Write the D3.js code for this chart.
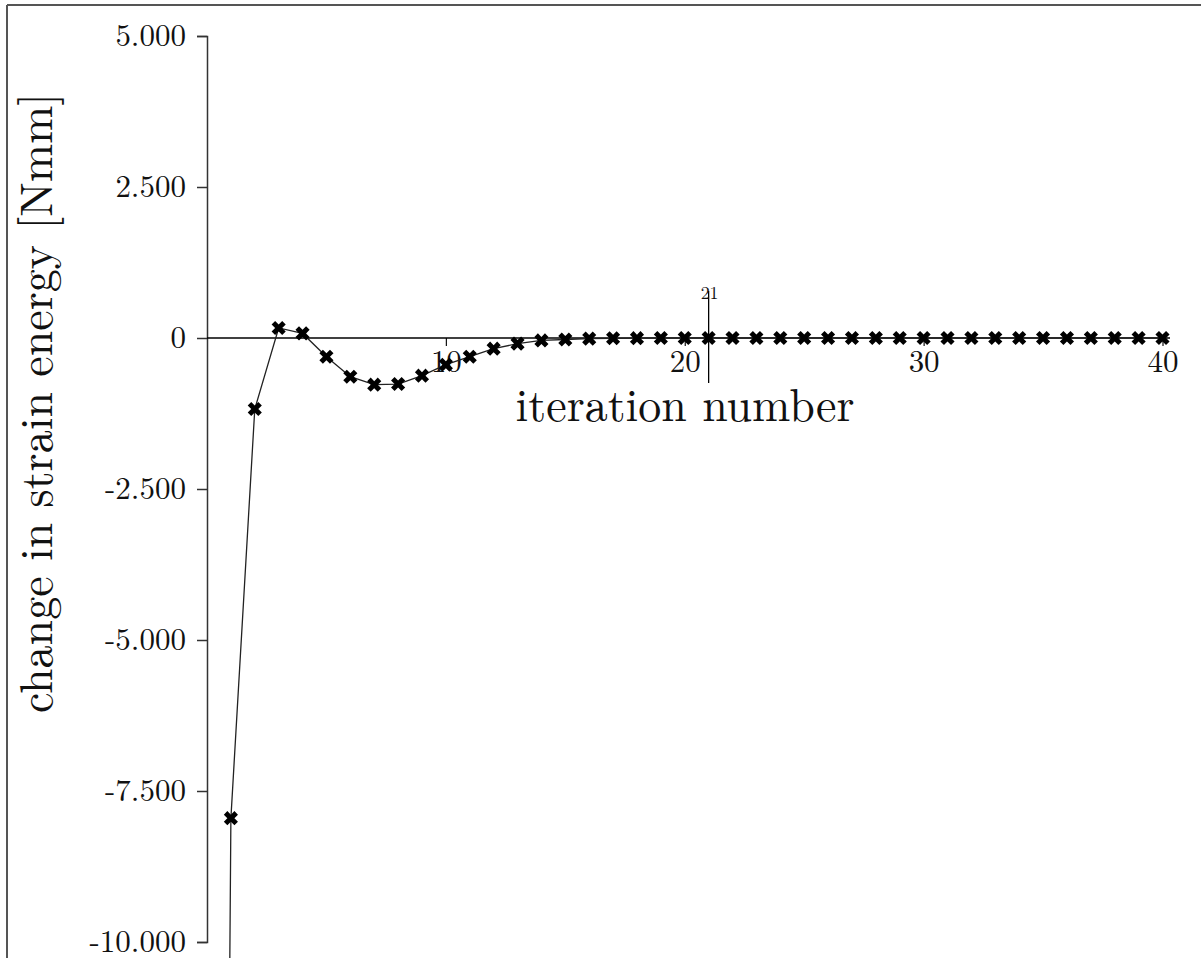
<!DOCTYPE html>
<html>
<head>
<meta charset="utf-8">
<script src="https://cdn.jsdelivr.net/npm/d3@7"></script>
<style>
  html, body { margin: 0; padding: 0; background: #fff; overflow: hidden; }
</style>
</head>
<body>
<div id="chart"></div>
<script>
// iteration numbers and change in strain energy [Nmm]
const iterations = d3.range(0, 41)
const energyChange = [-60000, -7950, -1176, 166, 76, -310, -641, -773, -762, -624,
  -442, -310, -177, -93, -40, -25, -10, -5, -3, 0,
  0, 0, 0, 0, 0, 0, 0, 0, 0, 0,
  0, 0, 0, 0, 0, 0, 0, 0, 0, 0, 0]
const yTicks = [-10000, -7500, -5000, -2500, 0, 2500, 5000]
const xTicks = [10, 20, 30, 40]
const markIteration = 21

const width = 1201, height = 958
const FONT = '"Latin Modern Roman", "CMU Serif", "Liberation Serif", serif'

const data = iterations.map((it, i) => ({it: it, value: energyChange[i]}))

const locale = d3.formatLocale({decimal: ",", thousands: ".", grouping: [3], currency: ["", ""], minus: "-"})
const fmt = locale.format(",")

const svg = d3.select("#chart").append("svg")
    .attr("width", width)
    .attr("height", height)

// frame (only top and left show)
svg.append("line").attr("x1", 7).attr("y1", 5).attr("x2", width).attr("y2", 5)
    .attr("stroke", "#555").attr("stroke-width", 2)
svg.append("line").attr("x1", 7).attr("y1", 5).attr("x2", 7).attr("y2", height)
    .attr("stroke", "#555").attr("stroke-width", 2)

const x = d3.scaleLinear().domain([0, 40]).range([207, 1162.5])
const y = d3.scaleLinear().domain([-10000, 5000]).range([942, 36])

// y axis
const yAxis = svg.append("g")
    .attr("transform", `translate(${x(0)},0)`)
    .call(d3.axisLeft(y).tickValues(yTicks).tickFormat(fmt).tickSize(10).tickPadding(11))
yAxis.select(".domain").attr("stroke", "#333").attr("stroke-width", 1.5)
yAxis.selectAll(".tick line").attr("stroke", "#333").attr("stroke-width", 1.5)
yAxis.selectAll(".tick text")
    .style("font-family", FONT)
    .style("font-size", "31px")
    .attr("fill", "#111")

// x axis at zero
const xAxis = svg.append("g")
    .attr("transform", `translate(0,${y(0)})`)
    .call(d3.axisBottom(x).tickValues(xTicks).tickSize(8).tickSizeOuter(0).tickPadding(4))
xAxis.select(".domain").remove()
xAxis.selectAll(".tick line").attr("stroke", "#111").attr("stroke-width", 1.2)
xAxis.selectAll(".tick text")
    .style("font-family", FONT)
    .style("font-size", "31px")
    .attr("fill", "#111")
svg.append("line")
    .attr("x1", x(0)).attr("x2", 1170)
    .attr("y1", y(0)).attr("y2", y(0))
    .attr("stroke", "#000").attr("stroke-width", 1.5)

// axis titles
svg.append("text")
    .attr("transform", `translate(52,403) rotate(-90)`)
    .attr("text-anchor", "middle")
    .style("font-family", FONT)
    .style("font-size", "46px")
    .attr("fill", "#111")
    .text("change in strain energy [Nmm]")

svg.append("text")
    .attr("x", 685)
    .attr("y", 421)
    .attr("text-anchor", "middle")
    .style("font-family", FONT)
    .style("font-size", "46px")
    .attr("fill", "#111")
    .text("iteration number")

// marker for iteration 21
svg.append("line")
    .attr("x1", x(markIteration)).attr("x2", x(markIteration))
    .attr("y1", y(0) - 47).attr("y2", y(0) + 45)
    .attr("stroke", "#000").attr("stroke-width", 1.3)
svg.append("text")
    .attr("x", x(markIteration) + 1)
    .attr("y", y(0) - 39)
    .attr("text-anchor", "middle")
    .style("font-family", FONT)
    .style("font-size", "18px")
    .attr("fill", "#111")
    .text(markIteration)

// series
const line = d3.line().x(d => x(d.it)).y(d => y(d.value))
svg.append("path")
    .datum(data)
    .attr("fill", "none")
    .attr("stroke", "#222")
    .attr("stroke-width", 1.3)
    .attr("d", line)

const sym = d3.symbol().type(d3.symbolCross).size(125)
svg.append("g")
  .selectAll("path")
  .data(data.filter(d => d.it > 0))
  .join("path")
    .attr("transform", d => `translate(${x(d.it)},${y(d.value)}) rotate(45)`)
    .attr("d", sym)
    .attr("fill", "#000")
</script>
</body>
</html>
